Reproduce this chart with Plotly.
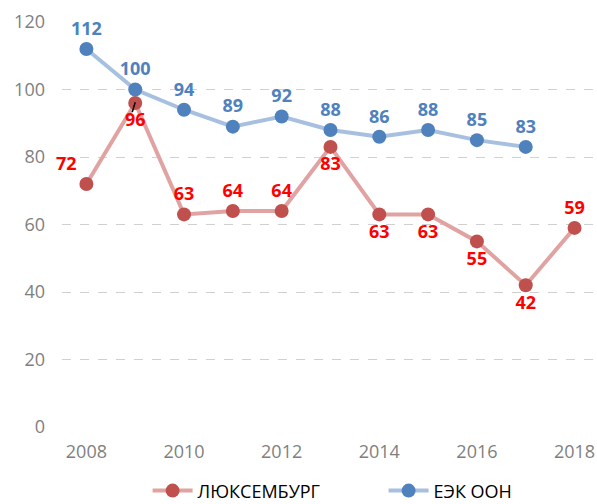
import plotly.graph_objects as go

years = [2008, 2009, 2010, 2011, 2012, 2013, 2014, 2015, 2016, 2017, 2018]
lux = [72, 96, 63, 64, 64, 83, 63, 63, 55, 42, 59]
unece_years = [2008, 2009, 2010, 2011, 2012, 2013, 2014, 2015, 2016, 2017]
unece = [112, 100, 94, 89, 92, 88, 86, 88, 85, 83]
lux_pos = ["top left", "bottom center", "top center", "top center", "top center",
           "bottom center", "bottom center", "bottom center", "bottom center",
           "bottom center", "top center"]
unece_pos = ["top center"] * 10

FONT = "Open Sans"

fig = go.Figure()
fig.add_trace(go.Scatter(
    x=years, y=lux, name="ЛЮКСЕМБУРГ", mode="lines+markers+text",
    line=dict(color="#E0A3A2", width=4),
    marker=dict(color="#C0504D", size=14),
    text=[str(v) for v in lux], textposition=lux_pos, cliponaxis=False,
    textfont=dict(color="#FF0000", size=18, family=FONT, weight="bold"),
))
fig.add_trace(go.Scatter(
    x=unece_years, y=unece, name="ЕЭК ООН", mode="lines+markers+text",
    line=dict(color="#A8C0E0", width=4),
    marker=dict(color="#4F81BD", size=14),
    text=[str(v) for v in unece], textposition=unece_pos, cliponaxis=False,
    textfont=dict(color="#4F81BD", size=18, family=FONT, weight="bold"),
))

# small leader line from the "96" label to its point
fig.add_shape(type="line", x0=2009.0, y0=96.2, x1=2008.94, y1=93.3,
              line=dict(color="black", width=1.5))

fig.update_layout(
    width=597, height=504,
    margin=dict(l=62, r=0, t=22, b=77, autoexpand=False),
    plot_bgcolor="white", paper_bgcolor="white",
    font=dict(family=FONT, size=16, color="#7F7F7F"),
    xaxis=dict(range=[2007.5, 2018.46], tickvals=[2008, 2010, 2012, 2014, 2016, 2018],
               showgrid=False, zeroline=False, showline=False, ticks="",
               ticklabelstandoff=12,
               tickfont=dict(size=18, color="#7F7F7F")),
    yaxis=dict(range=[0, 120], dtick=20, showgrid=True, gridcolor="#D0D0D0",
               griddash="dash", zeroline=False, showline=False, ticks="",
               ticklabelstandoff=16,
               tickfont=dict(size=18, color="#7F7F7F")),
    legend=dict(orientation="h", x=0.16, xanchor="left",
                yref="container", y=0.026, yanchor="middle",
                font=dict(size=18, color="#000000"), itemwidth=40,
                entrywidth=181),
    showlegend=True,
)

fig.write_html(
    "out.html",
    config={"displayModeBar": False},
    post_script="document.body.style.margin='0';document.body.style.overflow='hidden';",
)
